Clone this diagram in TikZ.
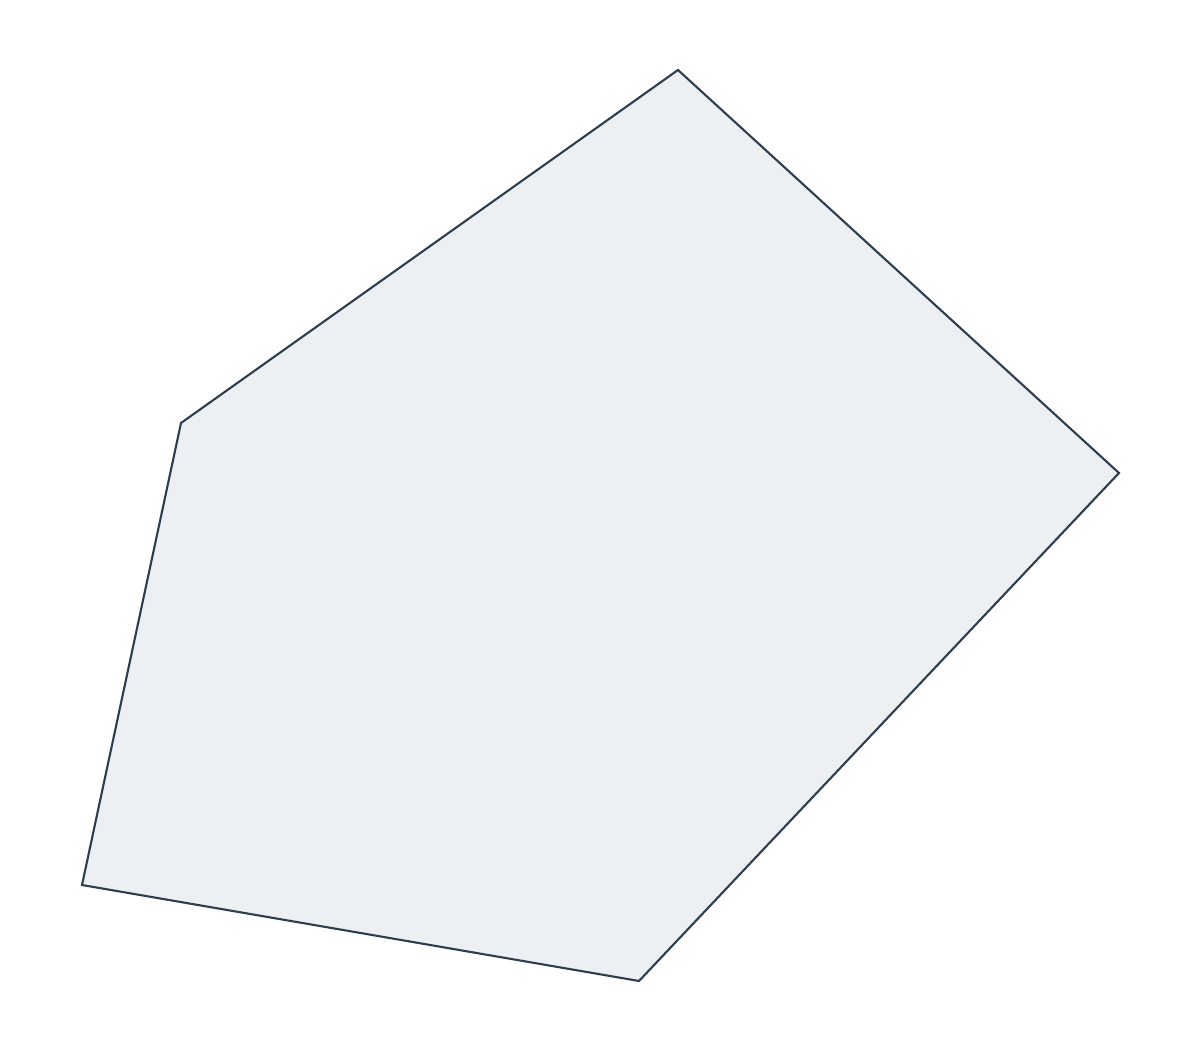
\documentclass[tikz,border=0pt]{standalone}
\usepackage{tikz}
\definecolor{edgecol}{HTML}{2C3E50}
\definecolor{fillcol}{HTML}{ECF0F3}
\tikzset{poly/.style={draw=edgecol,fill=fillcol,line width=0.6pt,line join=miter}}
\begin{document}
\begin{tikzpicture}
\useasboundingbox (0,0) rectangle (12,10.5);

\coordinate (top) at (6.78,9.80);
\coordinate (right) at (11.19,5.77);
\coordinate (bottom) at (6.39,0.69);
\coordinate (left) at (0.82,1.65);
\coordinate (upleft) at (1.81,6.27);

\draw[poly] (top) -- (right) -- (bottom) -- (left) -- (upleft) -- cycle;

\end{tikzpicture}
\end{document}
